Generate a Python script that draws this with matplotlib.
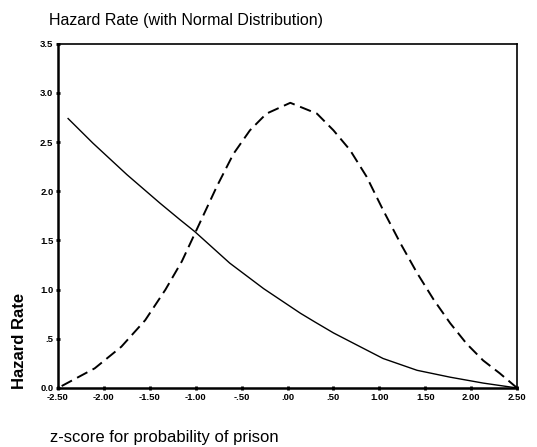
import matplotlib
matplotlib.use("Agg")
import matplotlib.pyplot as plt

# hazard rate (solid) and normal density scaled (dashed)
z_hazard = [-2.39, -2.12, -1.75, -1.39, -1.17, -1.01, -0.63, -0.26, 0.14, 0.30,
            0.50, 0.79, 1.04, 1.41, 1.77, 2.13, 2.50]
hazard = [2.74, 2.49, 2.17, 1.88, 1.71, 1.59, 1.27, 1.01, 0.76, 0.67,
          0.56, 0.42, 0.30, 0.18, 0.11, 0.05, 0.0]

z_normal = [-2.46, -2.10, -1.81, -1.55, -1.33, -1.15, -1.01, -0.92, -0.77, -0.59,
            -0.41, -0.23, 0.03, 0.32, 0.50, 0.68, 0.86, 1.04, 1.23, 1.41,
            1.59, 1.77, 1.95, 2.13, 2.31, 2.50]
normal = [0.02, 0.20, 0.42, 0.69, 1.00, 1.29, 1.57, 1.75, 2.05, 2.38,
          2.62, 2.79, 2.90, 2.79, 2.62, 2.42, 2.15, 1.81, 1.47, 1.17,
          0.90, 0.66, 0.45, 0.28, 0.15, 0.0]

x_ticks = [-2.5, -2.0, -1.5, -1.0, -0.5, 0.0, 0.5, 1.0, 1.5, 2.0, 2.5]
x_ticklabels = ["-2.50", "-2.00", "-1.50", "-1.00", "-.50", ".00", ".50",
                "1.00", "1.50", "2.00", "2.50"]
y_ticks = [0.0, 0.5, 1.0, 1.5, 2.0, 2.5, 3.0, 3.5]
y_ticklabels = ["0.0", ".5", "1.0", "1.5", "2.0", "2.5", "3.0", "3.5"]

plt.rcParams['font.family'] = ['Liberation Sans', 'DejaVu Sans']

fig = plt.figure(figsize=(5.37, 4.47), dpi=100)
ax = fig.add_axes([0.108, 0.132, 0.855, 0.770])

ax.plot(z_hazard, hazard, color='black', linewidth=1.0)
ax.plot(z_normal, normal, color='black', linewidth=1.4, dashes=(6, 3))

ax.set_xlim(-2.5, 2.5)
ax.set_ylim(0, 3.5)
ax.set_xticks(x_ticks)
ax.set_xticklabels(x_ticklabels, fontsize=6.8, fontweight='bold')
ax.set_yticks(y_ticks)
ax.set_yticklabels(y_ticklabels, fontsize=6.8, fontweight='bold')
ax.tick_params(length=2.5, width=2, direction='inout', pad=2)

ax.spines['left'].set_linewidth(1.8)
ax.spines['bottom'].set_linewidth(1.8)
ax.spines['top'].set_linewidth(1.2)
ax.spines['right'].set_linewidth(1.2)

fig.text(0.091, 0.955, "Hazard Rate (with Normal Distribution)",
         fontsize=11.5, ha='left', va='center')
fig.text(0.093, 0.022, "z-score for probability of prison",
         fontsize=12, ha='left', va='center')
fig.text(0.037, 0.13, "Hazard Rate", rotation=90, fontsize=12,
         fontweight='bold', ha='center', va='bottom')

fig.savefig("out.png", dpi=100)
